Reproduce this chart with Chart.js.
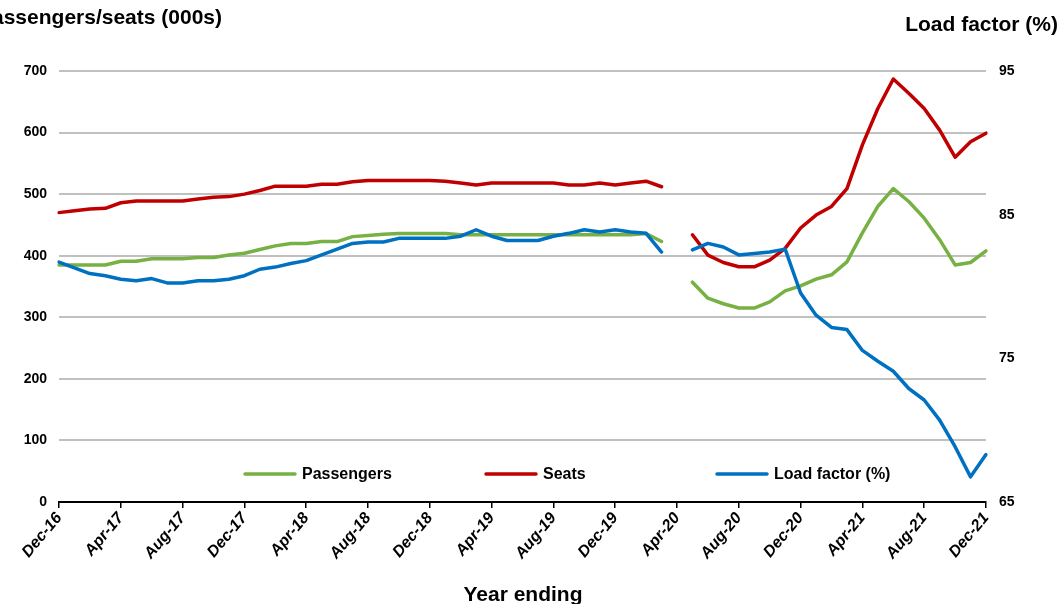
<!DOCTYPE html>
<html>
<head>
<meta charset="utf-8">
<script src="https://cdn.jsdelivr.net/npm/chart.js@4.4.1/dist/chart.umd.min.js"></script>
<style>
  html, body { margin: 0; padding: 0; background: #fff; }
  #wrap { width: 1060px; height: 604px; position: relative; }
</style>
</head>
<body>
<div id="wrap"><canvas id="chart"></canvas></div>
<script>
// year ending, monthly Dec-16 .. Dec-21
const months = [
  'Dec-16','Jan-17','Feb-17','Mar-17','Apr-17','May-17','Jun-17','Jul-17','Aug-17','Sep-17','Oct-17','Nov-17',
  'Dec-17','Jan-18','Feb-18','Mar-18','Apr-18','May-18','Jun-18','Jul-18','Aug-18','Sep-18','Oct-18','Nov-18',
  'Dec-18','Jan-19','Feb-19','Mar-19','Apr-19','May-19','Jun-19','Jul-19','Aug-19','Sep-19','Oct-19','Nov-19',
  'Dec-19','Jan-20','Feb-20','Mar-20','Apr-20','May-20','Jun-20','Jul-20','Aug-20','Sep-20','Oct-20','Nov-20',
  'Dec-20','Jan-21','Feb-21','Mar-21','Apr-21','May-21','Jun-21','Jul-21','Aug-21','Sep-21','Oct-21','Nov-21',
  'Dec-21'
];

const passengers = [
  385, 385, 385, 385, 391, 391, 395, 395, 395, 397, 397, 401,
  404, 410, 416, 420, 420, 423, 423, 431, 433, 435, 436, 436,
  436, 436, 434, 434, 434, 434, 434, 434, 434, 434, 434, 434,
  434, 434, 436, 423, null, 357, 331, 322, 315, 315, 325, 343,
  351, 362, 369, 390, 437, 480, 509, 488, 461, 426, 385, 389,
  408
];

const seats = [
  470, 473, 476, 477, 486, 489, 489, 489, 489, 492, 495, 496,
  500, 506, 513, 513, 513, 516, 516, 520, 522, 522, 522, 522,
  522, 521, 518, 515, 518, 518, 518, 518, 518, 515, 515, 518,
  515, 518, 521, 512, null, 434, 401, 389, 382, 382, 393, 412,
  445, 466, 480, 509, 580, 639, 687, 664, 639, 604, 560, 585,
  599
];

const loadFactor = [
  81.7, 81.3, 80.9, 80.75, 80.5, 80.4, 80.55, 80.25, 80.25, 80.4, 80.4, 80.5,
  80.75, 81.2, 81.35, 81.6, 81.8, 82.2, 82.6, 83.0, 83.1, 83.1, 83.35, 83.35,
  83.35, 83.35, 83.5, 83.95, 83.5, 83.2, 83.2, 83.2, 83.5, 83.7, 83.95, 83.8,
  83.95, 83.8, 83.7, 82.4, null, 82.55, 83.0, 82.75, 82.2, 82.3, 82.4, 82.6,
  79.55, 78.0, 77.15, 77.0, 75.55, 74.8, 74.1, 72.9, 72.1, 70.7, 68.85, 66.75,
  68.3
];

const leftTicks = { min: 0, max: 700, step: 100 };
const rightTicks = { min: 65, max: 95, step: 10 };

const palette = {
  green: '#77b043',
  red: '#c00000',
  blue: '#0070c0',
  grid: '#c0c0c0',
  ink: '#000000',
};
const fontFamily = "'Liberation Sans', Arial, sans-serif";

// titles + legend painted inside the plot, like the original
const overlayText = {
  id: 'overlayText',
  afterDraw(chart) {
    const c = chart.ctx;
    c.save();
    c.fillStyle = palette.ink;
    c.textBaseline = 'middle';
    c.font = `bold 21px ${fontFamily}`;
    c.textAlign = 'right';
    c.fillText('Passengers/seats (000s)', 222, 18);
    c.fillText('Load factor (%)', 1058, 25);
    c.textAlign = 'center';
    c.fillText('Year ending', 523, 595);

    const items = [
      { label: 'Passengers', color: palette.green, x: 245 },
      { label: 'Seats', color: palette.red, x: 486 },
      { label: 'Load factor (%)', color: palette.blue, x: 717 },
    ];
    c.font = `bold 16px ${fontFamily}`;
    c.textAlign = 'left';
    items.forEach((it) => {
      c.strokeStyle = it.color;
      c.lineWidth = 3.5;
      c.lineCap = 'round';
      c.beginPath();
      c.moveTo(it.x, 474);
      c.lineTo(it.x + 50, 474);
      c.stroke();
      c.fillStyle = palette.ink;
      c.fillText(it.label, it.x + 57, 475);
    });
    c.restore();
  },
};

function lineSet(label, data, color, axis, order) {
  return {
    label,
    data,
    yAxisID: axis,
    borderColor: color,
    backgroundColor: color,
    borderWidth: 3.5,
    borderJoinStyle: 'round',
    borderCapStyle: 'round',
    pointRadius: 0,
    tension: 0,
    spanGaps: false,
    fill: false,
    order,
  };
}

new Chart(document.getElementById('chart'), {
  type: 'line',
  data: {
    labels: months,
    datasets: [
      lineSet('Passengers', passengers, palette.green, 'y', 2),
      lineSet('Seats', seats, palette.red, 'y', 1),
      lineSet('Load factor (%)', loadFactor, palette.blue, 'y1', 0),
    ],
  },
  options: {
    responsive: true,
    maintainAspectRatio: false,
    animation: false,
    layout: { padding: { top: 71, left: 0, right: 0, bottom: 0 } },
    plugins: {
      legend: { display: false },
      tooltip: { enabled: false },
    },
    scales: {
      x: {
        type: 'category',
        offset: false,
        afterFit: (s) => { s.height = 102; },
        grid: {
          display: true,
          drawOnChartArea: false,
          drawTicks: true,
          tickLength: 6,
          color: palette.ink,
          lineWidth: 1.5,
        },
        border: { display: true, color: palette.ink, width: 2 },
        ticks: {
          autoSkip: false,
          maxRotation: 50,
          minRotation: 50,
          padding: 1,
          color: palette.ink,
          font: { family: fontFamily, size: 16, weight: 'bold', style: 'italic' },
          callback: (v, i) => (i % 4 === 0 ? months[i] : null),
        },
      },
      y: {
        position: 'left',
        min: leftTicks.min,
        max: leftTicks.max,
        afterFit: (s) => { s.width = 59; },
        grid: {
          color: (ctx) => (ctx.tick && ctx.tick.value === 0 ? 'rgba(0,0,0,0)' : palette.grid),
          lineWidth: 2,
          drawTicks: false,
        },
        border: { display: false },
        ticks: {
          stepSize: leftTicks.step,
          padding: 12,
          color: palette.ink,
          font: { family: fontFamily, size: 14, weight: 'bold' },
        },
      },
      y1: {
        position: 'right',
        min: rightTicks.min,
        max: rightTicks.max,
        afterFit: (s) => { s.width = 74; },
        grid: { drawOnChartArea: false, drawTicks: false },
        border: { display: false },
        ticks: {
          stepSize: rightTicks.step,
          padding: 13,
          color: palette.ink,
          font: { family: fontFamily, size: 14, weight: 'bold' },
        },
      },
    },
  },
  plugins: [overlayText],
});
</script>
</body>
</html>
